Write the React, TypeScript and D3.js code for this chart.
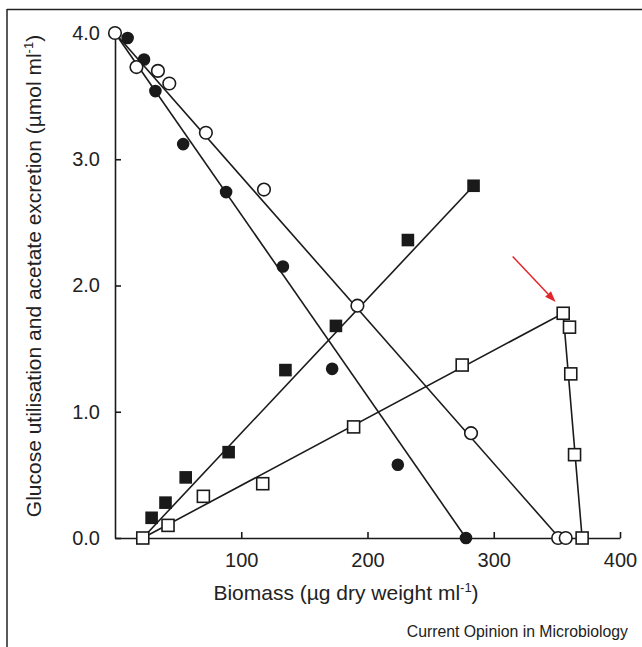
import React, { useRef, useEffect } from "react";
import { select, scaleLinear, line, axisBottom, axisLeft } from "d3";

// values (biomass in ug dry weight / ml, conc. in umol / ml)
const openCircleX = [0, 17, 34, 43, 72, 118, 192, 282, 351, 357];
const openCircleY = [4.0, 3.73, 3.7, 3.6, 3.21, 2.76, 1.84, 0.83, 0.0, 0.0];
const filledCircleX = [10, 23, 32, 54, 88, 133, 172, 224, 278];
const filledCircleY = [3.96, 3.79, 3.54, 3.12, 2.74, 2.15, 1.34, 0.58, 0.0];
const filledSquareX = [29, 40, 56, 90, 135, 175, 232, 284];
const filledSquareY = [0.16, 0.28, 0.48, 0.68, 1.33, 1.68, 2.36, 2.79];
const openSquareX = [22, 42, 70, 117, 189, 275, 355, 360, 361, 364, 370];
const openSquareY = [0, 0.1, 0.33, 0.43, 0.88, 1.37, 1.78, 1.67, 1.3, 0.66, 0];

// drawn trend lines
const openCircleFit = [[0, 4.0], [352, 0]];
const filledCircleFit = [[0, 4.0], [278, 0]];
const filledSquareFit = [[22, 0], [284, 2.79]];
const openSquareFit = [[22, 0], [355, 1.78], [370, 0]];

// red arrow pointing at the acetate peak
const arrowFrom = [315, 2.23];
const arrowTo = [349, 1.87];

const xTicks = [100, 200, 300, 400];
const yTicks = [0, 1, 2, 3, 4];

const FONT = "'Liberation Sans', Arial, Helvetica, sans-serif";
const INK = "#1a1a1a";

function BiomassChart() {
  const svgRef = useRef(null);

  useEffect(() => {
    const svg = select(svgRef.current);
    svg.selectAll("*").remove();

    const xScale = scaleLinear().domain([0, 400]).range([115, 620]);
    const yScale = scaleLinear().domain([0, 4]).range([538, 33]);

    // frame: top and left rule only
    svg.append("line").attr("x1", 7).attr("x2", 642).attr("y1", 9.5).attr("y2", 9.5)
      .attr("stroke", "#222").attr("stroke-width", 1.5);
    svg.append("line").attr("x1", 7).attr("x2", 7).attr("y1", 9).attr("y2", 647)
      .attr("stroke", "#222").attr("stroke-width", 1.5);

    // axes, ticks pointing inward
    const xAxis = axisBottom(xScale)
      .tickValues(xTicks)
      .tickSize(-6)
      .tickPadding(15)
      .tickSizeOuter(0)
      .tickFormat((d) => String(d));
    const gx = svg.append("g").attr("transform", `translate(0, ${yScale(0)})`).call(xAxis);

    const yAxis = axisLeft(yScale)
      .tickValues(yTicks)
      .tickSize(-6)
      .tickPadding(15)
      .tickSizeOuter(0)
      .tickFormat((d) => Number(d).toFixed(1));
    const gy = svg.append("g").attr("transform", `translate(${xScale(0)}, 0)`).call(yAxis);

    [gx, gy].forEach((g) => {
      g.select(".domain").attr("stroke", INK).attr("stroke-width", 1.6);
      g.selectAll(".tick line").attr("stroke", INK).attr("stroke-width", 1.6);
      g.selectAll(".tick text")
        .attr("fill", "#222")
        .style("font-family", FONT)
        .style("font-size", "20px");
    });
    gx.selectAll(".tick text").attr("dy", "0.71em");

    // axis titles
    const xt = svg.append("text")
      .attr("x", 346).attr("y", 600)
      .attr("text-anchor", "middle")
      .style("font-family", FONT).style("font-size", "21px").attr("fill", "#222");
    xt.append("tspan").text("Biomass (\u00b5g dry weight ml");
    xt.append("tspan").attr("dy", -8).style("font-size", "13px").text("-1");
    xt.append("tspan").attr("dy", 8).text(")");

    const yt = svg.append("text")
      .attr("transform", "translate(41, 276) rotate(-90)")
      .attr("text-anchor", "middle")
      .style("font-family", FONT).style("font-size", "21px").attr("fill", "#222");
    yt.append("tspan").text("Glucose utilisation and acetate excretion (\u00b5mol ml");
    yt.append("tspan").attr("dy", -8).style("font-size", "13px").text("-1");
    yt.append("tspan").attr("dy", 8).text(")");

    svg.append("text")
      .attr("x", 628).attr("y", 637)
      .attr("text-anchor", "end")
      .style("font-family", FONT).style("font-size", "15.8px").attr("fill", "#222")
      .text("Current Opinion in Microbiology");

    // trend lines
    const lineGen = line()
      .x((d) => xScale(d[0]))
      .y((d) => yScale(d[1]));
    [openCircleFit, filledCircleFit, filledSquareFit, openSquareFit].forEach((pts) => {
      svg.append("path")
        .attr("d", lineGen(pts))
        .attr("fill", "none")
        .attr("stroke", INK)
        .attr("stroke-width", 1.6);
    });

    // markers
    const circles = (xs, ys, fill, r) => {
      svg.append("g").selectAll("circle")
        .data(xs.map((x, i) => [x, ys[i]]))
        .join("circle")
        .attr("cx", (d) => xScale(d[0]))
        .attr("cy", (d) => yScale(d[1]))
        .attr("r", r)
        .attr("fill", fill)
        .attr("stroke", INK)
        .attr("stroke-width", 1.6);
    };
    const squares = (xs, ys, fill, s) => {
      svg.append("g").selectAll("rect")
        .data(xs.map((x, i) => [x, ys[i]]))
        .join("rect")
        .attr("x", (d) => xScale(d[0]) - s / 2)
        .attr("y", (d) => yScale(d[1]) - s / 2)
        .attr("width", s)
        .attr("height", s)
        .attr("fill", fill)
        .attr("stroke", INK)
        .attr("stroke-width", 1.6);
    };
    squares(filledSquareX, filledSquareY, INK, 11);
    squares(openSquareX, openSquareY, "#fff", 12);
    circles(filledCircleX, filledCircleY, INK, 5.5);
    circles(openCircleX, openCircleY, "#fff", 6.3);

    // red arrow
    const x1 = xScale(arrowFrom[0]), y1 = yScale(arrowFrom[1]);
    const x2 = xScale(arrowTo[0]), y2 = yScale(arrowTo[1]);
    const ang = Math.atan2(y2 - y1, x2 - x1);
    const head = 11, half = 4;
    const bx = x2 - head * Math.cos(ang), by = y2 - head * Math.sin(ang);
    svg.append("line")
      .attr("x1", x1).attr("y1", y1).attr("x2", bx).attr("y2", by)
      .attr("stroke", "#e3262b").attr("stroke-width", 1.5);
    svg.append("path")
      .attr("d", `M${x2},${y2}L${bx + half * Math.sin(ang)},${by - half * Math.cos(ang)}L${bx - half * Math.sin(ang)},${by + half * Math.cos(ang)}Z`)
      .attr("fill", "#e3262b");
  }, []);

  return (
    <svg
      ref={svgRef}
      width={642}
      height={647}
      style={{ position: "absolute", left: 0, top: 0, background: "#fff" }}
    />
  );
}

export default function App() {
  return <BiomassChart />;
}
